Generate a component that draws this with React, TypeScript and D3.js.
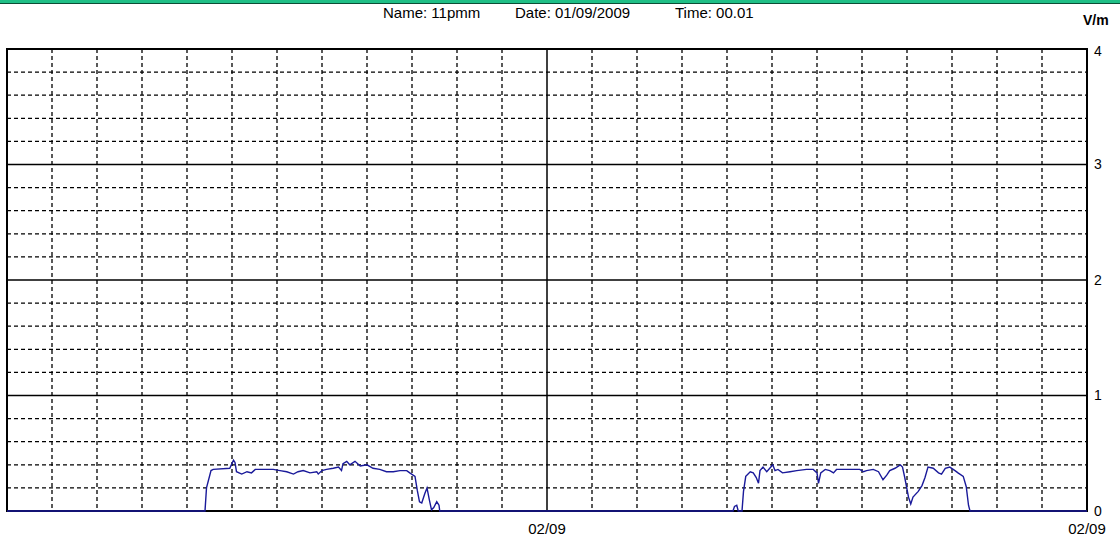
import React from 'react';
import * as d3 from 'd3';

// minutes since start of the window, field strength in V/m
const minutes = [
  0, 264, 266, 272, 275, 297, 302, 304, 306, 313, 320, 326, 331, 342, 355, 364, 373, 382, 388, 395,
  404, 413, 415, 420, 426, 435, 442, 446, 448, 453, 457, 464, 471, 480, 488, 497, 506, 515, 524, 533,
  537, 544, 547, 550, 553, 557, 560, 563, 566, 569, 573, 576, 577,
  968, 970, 973, 975, 980, 982, 985, 991, 995, 999, 1002, 1004, 1008, 1013, 1017, 1021, 1024, 1028,
  1034, 1044, 1053, 1066, 1075, 1080, 1082, 1085, 1091, 1097, 1102, 1106, 1120, 1137, 1142, 1146,
  1155, 1162, 1168, 1173, 1177, 1184, 1191, 1194, 1197, 1202, 1205, 1208, 1215, 1220, 1224, 1228,
  1235, 1242, 1246, 1251, 1257, 1264, 1268, 1275, 1279, 1282, 1284, 1440,
];
const values = [
  0, 0, 0.2, 0.35, 0.36, 0.37, 0.44, 0.42, 0.34, 0.32, 0.34, 0.33, 0.36, 0.36, 0.36, 0.35, 0.34, 0.32, 0.34, 0.35,
  0.33, 0.34, 0.32, 0.35, 0.36, 0.37, 0.38, 0.35, 0.41, 0.43, 0.4, 0.43, 0.39, 0.4, 0.37, 0.36, 0.34, 0.34, 0.35, 0.35,
  0.33, 0.3, 0.18, 0.08, 0.07, 0.15, 0.2, 0.1, 0.01, 0.03, 0.08, 0.05, 0,
  0, 0.04, 0.05, 0, 0, 0.17, 0.3, 0.34, 0.33, 0.29, 0.24, 0.35, 0.38, 0.34, 0.37, 0.4, 0.35, 0.36,
  0.33, 0.34, 0.35, 0.36, 0.36, 0.33, 0.24, 0.33, 0.36, 0.35, 0.33, 0.36, 0.36, 0.36, 0.34, 0.35,
  0.36, 0.34, 0.27, 0.31, 0.35, 0.37, 0.4, 0.38, 0.29, 0.12, 0.06, 0.12, 0.17, 0.22, 0.29, 0.38,
  0.37, 0.33, 0.32, 0.37, 0.38, 0.35, 0.33, 0.3, 0.21, 0.05, 0, 0,
];

const yTicks = [0, 1, 2, 3, 4];
const dateTicks = [720, 1440];
const dateLabels = ['02/09', '02/09'];
const header = ['Name: 11pmm', 'Date: 01/09/2009', 'Time: 00.01'];

const left = 7, right = 1087, top = 49, bottom = 511;
const font = '"Liberation Sans", Arial, sans-serif';

export default function App() {
  const x = d3.scaleLinear().domain([0, 1440]).range([left, right]);
  const y = d3.scaleLinear().domain([0, 4]).range([bottom, top]);

  const hourLines = d3.range(60, 1440, 60).filter((m) => m !== 720);
  const minorY = d3.range(0.2, 4, 0.2).filter((v) => Math.abs(v - Math.round(v)) > 0.01);

  const pts: [number, number][] = minutes.map((m, i) => [m, values[i]]);
  const line = d3.line<[number, number]>().x((d) => x(d[0])).y((d) => y(d[1]));

  return (
    <div style={{ position: 'absolute', left: 0, top: 0 }}>
      <svg width={1120} height={538} style={{ display: 'block', background: '#fff' }}>
        <rect x={0} y={0} width={1120} height={3} fill="#1fbf86" />
        <line x1={0} x2={1120} y1={3.5} y2={3.5} stroke="#0b4d35" strokeWidth={1} />

        {[383, 515, 675].map((px, i) => (
          <text key={i} x={px} y={18} fontFamily={font} fontSize={15} fill="#000">
            {header[i]}
          </text>
        ))}
        <text x={1083} y={25} fontFamily={font} fontSize={14} fontWeight="bold" fill="#000">
          V/m
        </text>

        {/* dashed grid */}
        {hourLines.map((m) => (
          <line key={'v' + m} x1={x(m)} x2={x(m)} y1={top} y2={bottom}
            stroke="#000" strokeWidth={1.3} strokeDasharray="4,3" />
        ))}
        {minorY.map((v) => (
          <line key={'h' + v} x1={left} x2={right} y1={y(v)} y2={y(v)}
            stroke="#000" strokeWidth={1.3} strokeDasharray="4,3" />
        ))}
        {/* solid grid */}
        {[1, 2, 3].map((v) => (
          <line key={'s' + v} x1={left} x2={right} y1={y(v)} y2={y(v)} stroke="#000" strokeWidth={1.3} />
        ))}
        <line x1={x(720)} x2={x(720)} y1={top} y2={bottom} stroke="#000" strokeWidth={1.5} />

        <rect x={left} y={top} width={right - left} height={bottom - top} fill="none" stroke="#000" strokeWidth={2} />

        <path d={line(pts) || ''} fill="none" stroke="#1a1a9a" strokeWidth={1.4} />

        {yTicks.map((v) => (
          <text key={'t' + v} x={1094} y={v === 4 ? 51 : y(v)} dy="0.35em"
            fontFamily={font} fontSize={14} fill="#000">
            {v}
          </text>
        ))}
        {dateTicks.map((m, i) => (
          <text key={'d' + m} x={x(m)} y={534} textAnchor="middle" fontFamily={font} fontSize={15} fill="#000">
            {dateLabels[i]}
          </text>
        ))}
      </svg>
    </div>
  );
}
